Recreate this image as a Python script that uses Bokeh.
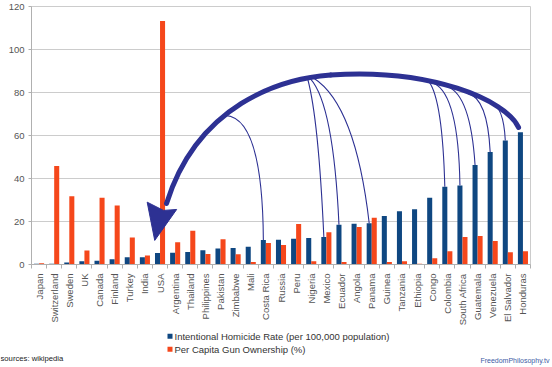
import math
from bokeh.plotting import figure
from bokeh.layouts import column
from bokeh.models import Range1d, FixedTicker, ColumnDataSource
from bokeh.core.properties import value
from bokeh.transform import dodge
from bokeh.embed import file_html
from bokeh.resources import INLINE

# ---------------- data ----------------
countries = ["Japan", "Switzerland", "Sweden", "UK", "Canada", "Finland", "Turkey",
             "India", "USA", "Argentina", "Thailand", "Philippines", "Pakistan",
             "Zimbabwe", "Mali", "Costa Rica", "Russia", "Peru", "Nigeria", "Mexico",
             "Ecuador", "Angola", "Panama", "Guinea", "Tanzania", "Ethiopia", "Congo",
             "Colombia", "South Africa", "Guatemala", "Venezuela", "El Salvador",
             "Honduras"]
homicide = [0.4, 0.3, 0.9, 1.5, 1.7, 2.5, 3.4, 3.4, 5.4, 5.5, 5.8, 6.6, 7.4,
            7.7, 8.3, 11.4, 11.5, 12.0, 12.3, 12.8, 18.5, 18.9, 19.2, 22.6, 24.8,
            25.7, 31.1, 36.2, 36.8, 46.3, 52.3, 57.7, 61.5]
gun_ownership = [0.6, 45.8, 31.7, 6.5, 31.0, 27.4, 12.6, 4.2, 113.2, 10.3, 15.7,
                 4.9, 11.8, 4.8, 1.2, 10.0, 9.1, 18.8, 1.5, 15.0, 1.2, 17.5, 21.8,
                 1.2, 1.5, 0.3, 2.9, 6.2, 12.8, 13.2, 10.9, 5.7, 6.2]
y_ticks = [0, 20, 40, 60, 80, 100, 120]

homicide_label = "Intentional Homicide Rate (per 100,000 population)"
guns_label = "Per Capita Gun Ownership (%)"
source_text = "sources: wikipedia"
credit_text = "FreedomPhilosophy.tv"

# sweeping arrow annotation (category index, value)
arc_x0 = [31.71, 19.28]
arc_y0 = [63.77, 88.14]
arc_cx0 = [30.85, 15.97]
arc_cy0 = [76.64, 86.53]
arc_cx1 = [25.89, 10.48]
arc_cy1 = [91.36, 74.34]
arc_x1 = [19.28, 8.43]
arc_y1 = [88.14, 28.37]
head_x = [7.65, 7.15, 8.23, 9.10]
head_y = [11.2, 29.0, 25.15, 25.6]

# thin connector lines from the arrow to the bars they point at
connector_targets = ["Costa Rica", "Mexico", "Ecuador", "Panama", "Colombia",
                     "South Africa", "Guatemala", "Venezuela", "El Salvador"]
connector_start_x = [12.33, 17.77, 17.95, 18.15, 25.78, 26.11, 26.99, 28.32, 29.86]
connector_start_y = [69.29, 86.16, 86.30, 86.76, 85.06, 84.32, 82.76, 79.72, 75.13]
connector_ctrl_x = [14.78, 18.48, 19.47, 20.93, 26.68, 27.74, 28.53, 29.66, 30.72]
connector_ctrl_y = [68.37, 67.45, 74.34, 74.34, 76.64, 78.94, 78.94, 77.56, 73.89]

# ---------------- style ----------------
BLUE = "#0f4781"
ORANGE = "#f5471b"
ARROW = "#2d3193"
GRID = "#cccccc"
AXIS = "#b0b0b0"
FONT = "Liberation Sans"
n = len(countries)
BAR_W = 1 / 3
W = 552

src = ColumnDataSource(dict(idx=list(range(n)), homicide=homicide, guns=gun_ownership))

p = figure(width=W, height=328, x_range=Range1d(-0.5, n - 0.5),
           y_range=Range1d(0, 120), output_backend="svg", toolbar_location=None,
           min_border_left=31, min_border_right=22, min_border_top=6,
           min_border_bottom=61)
p.frame_align = False
p.background_fill_color = "white"
p.border_fill_color = "white"
p.outline_line_color = GRID

r_h = p.vbar(x=dodge("idx", -BAR_W / 2, range=p.x_range), top="homicide",
             width=BAR_W, source=src, fill_color=BLUE, line_color=None)
r_g = p.vbar(x=dodge("idx", BAR_W / 2, range=p.x_range), top="guns",
             width=BAR_W, source=src, fill_color=ORANGE, line_color=None)

# annotations
end_x = [countries.index(c) - BAR_W / 2 for c in connector_targets]
end_y = [homicide[countries.index(c)] for c in connector_targets]
p.quadratic(x0=connector_start_x, y0=connector_start_y, x1=end_x, y1=end_y,
            cx=connector_ctrl_x, cy=connector_ctrl_y, line_color=ARROW, line_width=1.1)
p.bezier(x0=arc_x0, y0=arc_y0, x1=arc_x1, y1=arc_y1, cx0=arc_cx0, cy0=arc_cy0,
         cx1=arc_cx1, cy1=arc_cy1, line_color=ARROW, line_width=5, line_cap="round")
p.patch(head_x, head_y, fill_color=ARROW, line_color=ARROW, line_width=1)

# axes
p.xgrid.visible = False
p.ygrid.grid_line_color = GRID
p.yaxis.ticker = FixedTicker(ticks=y_ticks)
p.xaxis.ticker = FixedTicker(ticks=list(range(n)),
                             minor_ticks=[i - 0.5 for i in range(n + 1)])
p.xaxis.major_label_overrides = {i: c for i, c in enumerate(countries)}
p.xaxis.major_label_orientation = math.pi / 2
for ax in (p.xaxis, p.yaxis):
    ax.axis_line_color = AXIS
    ax.major_label_text_font = FONT
    ax.major_label_text_font_size = "9.5px"
    ax.major_label_text_color = "#555555"
    ax.major_tick_line_color = AXIS
    ax.minor_tick_line_color = AXIS
    ax.major_tick_in = 0
    ax.minor_tick_in = 0
p.xaxis.major_tick_out = 0
p.xaxis.minor_tick_out = 4
p.xaxis.major_label_standoff = 5
p.yaxis.major_tick_out = 3
p.yaxis.minor_tick_out = 0
p.yaxis.major_label_standoff = 4

# ---------------- footer: legend + credits (pixel coordinates) ----------------
FH = 39
f = figure(width=W, height=FH, x_range=Range1d(0, W), y_range=Range1d(FH, 0),
           output_backend="svg", toolbar_location=None, x_axis_type=None,
           y_axis_type=None, min_border=0)
f.frame_align = False
f.outline_line_color = None
f.grid.visible = False
f.background_fill_color = "white"
f.border_fill_color = "white"

f.scatter(x=[169.5, 169.5], y=[7.7, 20.8], marker="square", size=5,
          fill_color=[BLUE, ORANGE], line_color=None)
f.text(x=[174, 174], y=[7.7, 20.8], text=[homicide_label, guns_label],
       text_font=value(FONT), text_font_size="9.5px", text_color="#333333",
       text_baseline="middle", text_align="left")
f.text(x=[0], y=[29.5], text=[source_text], text_font=value(FONT),
       text_font_size="7.7px", text_color="#222222", text_baseline="middle")
f.text(x=[549], y=[32.0], text=[credit_text], text_font=value(FONT),
       text_font_size="7px", text_color="#3b5ba5", text_baseline="middle",
       text_align="right")

layout = column(p, f, spacing=0)
open("out.html", "w").write(file_html(layout, INLINE))
